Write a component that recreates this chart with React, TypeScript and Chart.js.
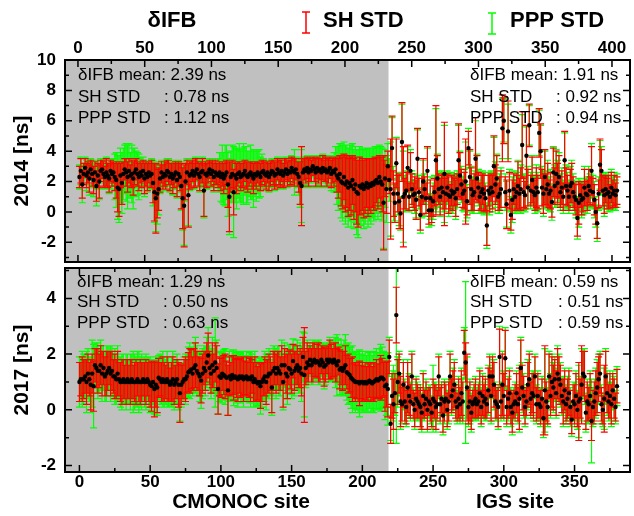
import React, { useEffect, useRef } from "react";
import { Chart, registerables } from "chart.js";

Chart.register(...registerables);

const FONT = 'Arial, "Liberation Sans", Helvetica, sans-serif';

// ---------------- data: 2014 ----------------
const M14 = [
  2.3,2.7,1.8,2.5,2.9,2.4,2.6,2.2,2.8,2.5,
  2.1,2.6,1.7,2.4,2.0,2.7,2.8,2.5,2.3,2.6,
  2.4,2.2,2.7,2.5,2.6,2.3,2.1,1.6,1.5,2.4,
  1.9,2.5,2.8,2.6,2.3,2.7,2.4,2.5,2.2,2.6,
  2.8,2.5,2.3,2.6,2.4,2.7,2.2,2.5,2.3,2.6,
  2.4,2.5,1.9,1.3,0.9,1.2,1.5,2.2,2.6,2.3,
  2.5,2.4,2.7,2.6,2.3,2.5,2.2,2.4,2.6,2.1,
  2.5,2.3,1.7,0.9,0.4,2.0,2.6,1.1,2.4,2.5,
  2.7,2.4,2.6,2.8,2.5,2.3,2.6,2.7,1.4,2.5,
  2.4,2.6,2.8,2.5,2.7,2.3,2.6,2.5,2.4,2.6,
  2.3,2.5,2.2,2.4,2.6,1.8,1.0,2.3,2.5,1.3,
  2.4,2.2,2.5,2.6,2.3,2.4,2.5,2.7,2.4,2.3,
  2.5,2.6,2.4,2.2,2.5,2.4,2.6,2.5,2.3,2.6,
  2.7,2.5,2.4,2.6,2.3,2.5,2.7,2.6,2.4,2.5,
  2.8,2.6,2.5,2.7,2.4,2.6,2.8,2.5,2.7,2.6,
  2.9,2.7,2.6,2.8,2.5,2.3,1.9,1.7,2.6,2.8,
  2.7,2.9,2.6,2.8,2.7,3.0,2.8,2.6,2.9,2.7,
  2.8,2.6,2.9,2.7,2.8,2.6,2.7,2.9,2.5,2.7,
  2.6,2.8,2.4,2.2,2.5,2.0,1.9,2.3,1.8,2.0,
  1.6,1.9,1.7,2.1,1.5,1.8,1.3,1.2,1.7,1.6,
  1.8,1.5,1.7,1.9,1.6,1.8,1.7,1.9,1.8,2.0,
  2.1,1.9,2.3,2.0,1.8,0.6,2.2,1.5,3.0,
  2.1,1.5,4.2,1.2,0.6,3.2,1.2,0.7,-0.1,4.6,
  1.0,1.2,1.4,2.9,1.0,2.7,1.5,1.1,1.2,0.8,
  3.5,1.3,-0.2,1.0,2.0,1.5,0.9,2.7,0.1,0.9,
  0.1,0.7,1.3,3.4,2.2,1.5,1.0,1.6,1.3,2.5,
  1.2,1.6,1.1,1.0,1.4,1.2,1.3,0.9,1.5,3.4,
  2.4,1.8,1.2,1.4,2.0,0.7,4.2,2.3,1.5,1.1,
  1.3,3.5,2.2,1.6,1.0,1.3,1.5,1.2,0.9,-0.9,
  1.4,1.2,1.6,1.3,3.0,1.8,2.2,1.0,1.2,1.5,
  5.5,6.0,1.3,0.5,5.3,1.4,-0.2,0.8,1.5,1.0,
  1.3,1.7,1.2,1.5,4.4,1.3,1.1,3.7,1.6,5.7,
  1.4,2.1,1.3,1.1,1.6,1.3,5.2,4.0,1.6,1.2,
  2.3,1.5,1.8,1.2,1.4,0.65,2.6,1.7,2.5,1.9,
  2.3,1.3,1.6,1.0,3.4,1.7,1.4,1.0,1.7,1.9,
  1.3,1.0,0.8,-0.4,0.6,1.1,0.8,0.9,1.6,1.2,
  1.1,1.7,1.4,2.7,1.3,0.8,0.0,-0.75,1.2,3.1,
  2.7,1.4,1.1,1.5,1.2,1.3,1.0,1.6,1.2,1.4,
  1.1,1.4
];

const SH14 = [
  0.7,0.8,0.9,0.7,0.6,0.8,0.7,0.9,0.6,0.8,
  0.9,0.7,1.0,0.8,1.1,0.7,0.6,0.8,0.7,0.9,
  0.8,0.9,0.7,0.8,0.7,0.9,1.2,1.6,1.8,0.8,
  1.4,0.8,0.7,0.9,1.0,0.8,0.7,0.9,1.1,0.8,
  0.7,0.8,0.9,0.7,0.8,0.7,1.0,0.8,0.9,0.7,
  0.8,0.9,1.3,1.9,2.3,1.6,1.4,0.9,0.7,0.8,
  0.8,0.9,0.7,0.8,0.9,0.7,1.0,0.8,0.7,1.1,
  0.8,0.9,1.5,2.0,2.7,1.2,0.8,2.1,0.9,0.8,
  0.7,0.8,0.9,0.7,0.8,0.9,0.7,0.8,1.7,0.8,
  0.8,0.7,0.6,0.8,0.7,0.9,0.8,0.7,0.8,0.7,
  0.9,0.8,1.0,0.9,0.8,1.5,2.3,1.0,0.9,1.5,
  0.9,1.0,0.8,0.7,0.9,0.8,0.8,0.7,0.9,1.0,
  0.8,0.7,0.9,1.0,0.8,0.9,0.7,0.8,0.9,0.8,
  0.7,0.8,0.9,0.7,0.9,0.8,0.7,0.8,0.9,0.8,
  0.7,0.8,0.9,0.7,0.8,0.9,0.7,0.8,0.7,0.8,
  0.7,0.8,0.9,0.7,0.8,1.0,1.4,2.6,0.9,0.7,
  0.8,0.7,0.9,0.8,0.7,0.6,0.8,0.9,0.7,0.8,
  0.7,0.9,0.8,0.7,0.8,0.9,0.8,0.7,0.9,0.8,
  0.9,0.8,1.1,1.3,1.2,1.6,1.7,1.5,1.8,1.7,
  1.9,1.8,1.9,1.6,2.0,1.8,2.1,2.2,1.9,1.8,
  1.7,1.9,1.8,1.6,1.9,1.7,1.8,1.6,1.7,1.6,
  1.5,1.7,1.4,1.6,1.8,3.1,1.2,1.6,1.0,
  0.9,3.3,2.1,1.5,1.3,1.6,1.2,1.8,1.0,2.6,
  3.3,1.0,1.2,1.5,0.9,1.2,1.0,0.8,1.1,1.3,
  2.0,0.9,1.0,1.2,1.5,0.8,1.0,1.6,0.9,1.2,
  0.8,1.0,0.9,3.6,1.5,1.0,1.2,0.9,1.1,3.4,
  1.0,0.9,1.2,0.8,1.0,1.1,0.9,1.2,1.0,2.4,
  1.5,1.0,0.9,1.2,2.8,0.9,1.1,1.8,1.4,1.0,
  1.2,2.7,1.5,1.0,0.9,1.1,1.0,1.2,0.8,1.3,
  1.0,1.2,0.9,1.1,2.0,1.3,1.5,0.9,1.1,1.2,
  2.2,1.5,1.0,1.6,2.0,1.2,1.0,1.3,1.0,0.9,
  1.1,1.6,1.0,1.4,2.2,1.0,0.9,2.0,1.2,1.4,
  1.0,1.5,0.9,1.0,1.3,1.1,1.6,1.8,1.2,1.3,
  1.8,1.0,1.4,0.9,1.2,1.0,1.6,1.2,1.5,1.3,
  1.4,1.0,1.1,0.9,1.9,1.2,1.0,0.9,1.1,1.3,
  1.0,0.9,1.0,1.2,1.4,0.8,1.0,0.9,1.2,0.8,
  1.0,1.1,0.9,1.6,0.9,1.0,0.8,1.0,0.9,1.7,
  1.4,1.0,1.2,0.9,1.0,1.1,0.8,1.0,0.9,1.0,
  0.8,0.9
];

const PPP14 = [
  0.8,0.9,1.2,0.7,0.7,1.0,0.8,1.1,0.7,0.9,
  1.1,0.8,1.3,0.9,1.2,0.8,0.7,0.9,0.8,1.0,
  0.9,1.0,0.8,1.0,0.9,1.5,1.8,2.1,2.2,1.8,
  2.0,1.7,1.6,1.9,2.1,1.8,1.5,1.9,2.0,1.6,
  1.2,1.4,1.5,1.0,1.2,0.9,1.2,0.9,1.0,0.8,
  0.9,1.0,1.5,2.0,2.2,2.0,1.7,1.0,0.8,0.9,
  0.9,1.0,0.8,0.9,1.0,0.8,1.1,0.9,0.8,1.2,
  0.9,1.0,1.6,2.1,2.6,1.3,0.9,2.0,1.0,0.9,
  0.8,0.9,1.0,0.8,0.9,1.0,0.8,0.9,1.8,0.9,
  0.9,0.8,0.7,0.9,0.8,1.0,0.9,0.8,1.1,1.3,
  1.6,1.9,1.7,2.0,1.8,2.1,2.5,1.7,1.9,3.0,
  1.8,2.0,1.6,1.9,1.7,1.8,2.0,1.6,1.9,1.7,
  1.5,1.8,1.6,1.9,1.5,1.7,1.4,1.6,1.3,1.2,
  0.8,0.9,1.0,0.8,1.0,0.9,0.8,0.9,1.0,0.9,
  0.8,0.9,1.0,0.8,0.9,1.0,0.8,0.9,0.8,0.9,
  0.8,0.9,1.5,0.8,0.9,1.2,1.6,2.4,1.0,0.8,
  0.9,0.8,1.0,0.9,0.8,0.7,0.9,1.0,0.8,0.9,
  0.8,1.0,0.9,0.8,0.9,1.0,0.9,0.8,1.1,0.9,
  1.3,1.5,1.9,2.1,2.0,2.4,2.5,2.3,2.6,2.4,
  2.6,2.5,2.7,2.4,2.6,2.5,2.8,2.9,2.6,2.5,
  2.4,2.6,2.5,2.3,2.6,2.4,2.5,2.3,2.4,2.3,
  2.2,2.4,2.1,2.3,2.4,3.0,1.9,2.2,1.5,
  1.4,3.1,2.0,1.8,1.2,1.7,1.4,1.6,1.1,2.5,
  3.0,1.2,1.3,1.4,1.0,1.4,1.2,1.0,1.3,1.2,
  1.9,1.1,1.2,1.4,1.4,1.0,1.2,1.5,1.1,1.4,
  1.0,1.2,1.1,3.4,1.6,1.2,1.3,1.1,1.3,3.2,
  1.2,1.1,1.4,1.0,1.2,1.3,1.1,1.4,1.2,2.3,
  1.6,1.2,1.1,1.4,2.6,1.1,1.3,1.7,1.5,1.2,
  1.4,2.5,1.6,1.2,1.1,1.3,1.2,1.4,1.0,1.5,
  1.2,1.4,1.1,1.3,1.9,1.5,1.6,1.1,1.3,1.4,
  2.0,1.4,1.2,1.5,1.8,1.4,1.2,1.5,1.2,1.1,
  1.3,1.7,1.2,1.6,2.0,1.2,1.1,1.9,1.4,1.3,
  1.2,1.6,1.1,1.2,1.5,1.3,1.5,1.7,1.4,1.5,
  1.7,1.2,1.6,1.1,1.4,1.2,1.7,1.4,1.6,1.5,
  1.6,1.2,1.3,1.1,1.8,1.4,1.2,1.1,1.3,1.5,
  1.2,1.1,1.2,1.4,1.6,1.0,1.2,1.1,1.4,1.0,
  1.2,1.3,1.1,1.8,1.1,1.2,1.0,1.2,1.1,1.6,
  1.6,1.2,1.4,1.1,1.2,1.3,1.0,1.2,1.1,1.2,
  1.0,1.1
];

// ---------------- data: 2017 ----------------
const M17 = [
  1.0,1.1,1.1,1.1,1.2,1.0,1.3,1.1,0.9,1.3,
  0.85,1.6,1.5,1.4,1.4,1.6,1.3,1.5,1.2,1.3,
  1.4,1.5,1.3,1.4,1.2,1.2,1.1,1.3,1.1,1.0,
  1.0,1.1,1.0,1.0,1.1,1.0,1.0,1.1,1.0,1.0,
  1.0,1.1,1.0,1.0,1.0,1.1,1.0,1.0,1.1,1.0,
  0.9,0.85,1.0,0.75,0.9,0.8,1.15,1.1,1.0,1.1,
  1.0,1.0,1.1,1.0,0.9,1.0,1.1,0.9,1.0,1.1,
  0.9,0.6,0.9,1.0,1.1,1.1,1.2,1.35,1.4,1.45,
  1.3,1.5,1.6,1.4,1.3,1.2,1.05,1.3,1.5,1.4,
  1.7,1.95,1.5,1.3,1.6,1.4,1.7,1.5,0.75,1.2,
  1.15,1.3,1.25,1.2,1.15,0.7,1.2,1.1,1.25,1.15,
  1.2,1.15,1.1,1.2,1.15,1.2,1.1,1.15,1.2,1.1,
  1.15,1.1,1.2,1.0,1.1,1.0,0.95,1.0,0.85,1.0,
  1.1,1.2,1.0,1.2,1.3,1.3,0.8,1.4,1.5,1.3,
  1.5,1.4,1.3,1.6,1.0,1.6,1.3,1.2,1.5,1.45,
  1.3,1.75,1.4,1.5,1.6,1.4,1.5,1.3,1.9,1.25,
  1.5,1.7,1.6,1.8,1.6,1.7,1.8,1.7,1.75,1.7,
  1.6,1.8,1.7,1.55,1.6,1.8,1.7,1.8,1.75,1.7,
  1.8,1.7,1.6,1.75,1.45,1.5,1.4,1.5,1.6,1.35,
  1.3,1.25,1.15,1.1,1.05,1.0,1.0,1.0,0.95,1.0,
  1.0,0.95,1.0,0.95,1.0,1.05,1.0,0.95,1.0,1.05,
  1.1,1.05,1.1,1.15,1.15,1.1,0.85,0.9,0.75,
  1.9,-0.5,0.5,0.2,0.6,3.4,1.0,1.3,0.3,0.2,
  0.9,0.3,0.1,0.8,0.5,0.3,1.2,0.2,0.0,0.4,
  0.3,0.2,0.1,-0.1,0.5,0.2,0.4,0.0,0.3,0.2,
  -0.1,0.4,0.3,0.1,0.2,1.2,0.2,0.4,-0.2,0.3,
  0.4,0.0,0.3,1.2,0.5,0.7,0.9,0.3,0.1,0.4,
  0.2,0.6,0.3,2.05,1.7,0.8,0.1,0.3,-0.1,0.2,
  0.3,0.4,0.2,0.3,0.6,0.1,0.5,0.3,0.4,0.2,
  0.7,1.2,0.5,1.2,0.9,0.3,0.2,0.1,1.9,0.3,
  0.9,0.5,1.85,0.1,0.4,0.6,0.1,-0.1,0.2,0.3,
  0.6,0.2,0.4,1.5,0.8,0.5,0.1,0.3,0.9,1.1,
  0.4,0.6,0.5,1.2,0.2,0.5,0.2,0.1,0.4,-0.3,
  0.7,0.3,0.1,1.2,0.5,1.0,0.8,1.1,0.6,1.3,
  1.1,0.9,0.5,0.3,0.7,0.2,0.4,0.6,0.1,-0.35,
  0.3,0.2,0.5,0.0,0.3,0.4,0.9,1.3,1.2,-0.1,
  0.3,0.2,0.5,-0.4,0.1,0.3,0.6,0.8,1.1,1.3,
  0.2,0.0,0.4,1.2,0.6,0.3,0.5,0.2,0.7,0.4,
  0.1,0.85
];

const SH17 = [
  0.7,0.6,0.8,0.7,0.6,0.8,0.7,0.6,0.9,0.7,
  0.9,0.6,0.7,0.8,0.6,0.7,0.8,0.6,0.7,0.8,
  0.7,0.6,0.8,0.7,0.6,0.8,0.7,0.8,0.6,0.7,
  0.8,0.7,0.6,0.8,0.7,0.6,0.8,0.7,0.6,0.7,
  0.8,0.6,0.7,0.8,0.7,0.6,0.7,0.8,0.6,0.7,
  0.8,0.9,0.7,1.0,0.8,0.9,0.7,0.6,0.7,0.8,
  0.7,0.6,0.8,0.7,0.6,0.7,0.8,0.7,0.6,0.7,
  0.8,1.05,0.7,0.6,0.7,0.8,0.6,0.7,0.8,0.7,
  0.6,0.7,0.8,0.7,0.6,0.7,0.8,0.7,0.6,0.7,
  0.7,0.8,0.6,0.7,0.8,0.6,0.7,0.8,0.9,0.7,
  0.7,0.6,0.7,0.8,0.6,0.9,0.7,0.6,0.7,0.8,
  0.6,0.7,0.8,0.6,0.7,0.7,0.8,0.6,0.7,0.6,
  0.7,0.8,0.6,0.7,0.8,0.7,0.6,0.7,0.8,0.7,
  0.6,0.7,0.8,0.6,0.7,0.6,0.9,0.7,0.6,0.7,
  0.6,0.7,0.6,0.7,0.9,0.6,0.7,0.8,0.6,0.7,
  0.7,0.6,0.7,0.6,0.7,0.6,0.7,0.8,0.7,1.7,
  0.6,0.7,0.6,0.5,0.6,0.7,0.6,0.5,0.6,0.7,
  0.6,0.5,0.6,0.7,0.6,0.5,0.6,0.7,0.6,0.5,
  0.6,0.7,0.6,0.5,0.7,0.6,0.7,0.6,0.7,0.6,
  0.7,0.6,0.7,0.8,0.6,0.7,0.6,0.7,0.8,0.6,
  0.7,0.6,0.7,0.6,0.7,0.6,0.7,0.6,0.7,0.6,
  0.7,0.6,0.7,0.8,0.7,0.6,0.9,0.8,1.0,
  0.6,0.7,0.8,0.9,0.7,1.0,0.8,0.7,0.9,0.6,
  0.8,0.7,0.6,0.9,0.7,0.6,0.8,0.5,0.6,0.7,
  0.6,0.5,0.7,0.6,0.8,0.5,0.6,0.7,0.5,0.6,
  0.5,0.7,0.6,0.8,0.5,0.7,0.6,0.5,0.6,0.7,
  0.5,0.6,0.7,0.8,0.6,0.7,0.8,0.6,0.5,0.7,
  0.6,0.8,0.7,0.8,0.7,1.2,0.6,0.7,0.6,0.5,
  0.6,0.7,0.5,0.6,0.8,0.6,0.7,0.6,0.7,0.5,
  0.8,0.7,0.9,0.7,0.8,0.6,0.5,0.7,1.0,0.6,
  1.1,0.8,1.0,0.6,0.7,0.8,0.6,0.7,0.5,0.6,
  0.7,0.6,1.1,1.0,0.8,0.7,0.6,0.5,0.8,0.9,
  0.6,0.7,0.8,0.7,0.6,0.8,0.5,0.6,0.7,0.6,
  1.6,0.7,0.6,0.8,0.7,0.9,0.8,0.7,0.8,0.9,
  0.8,0.7,0.6,0.8,0.7,0.6,0.7,0.8,0.6,0.5,
  0.6,0.7,0.8,0.6,1.4,0.7,1.4,0.8,0.9,0.6,
  0.7,0.6,0.8,0.7,0.6,0.7,0.8,0.9,0.8,0.7,
  0.6,0.5,1.2,0.9,0.7,0.6,0.8,0.7,0.6,0.7,
  0.5,0.6
];

const PPP17 = [
  0.9,0.8,1.0,0.9,0.8,1.1,0.9,0.8,1.0,1.2,
  1.5,0.8,0.9,1.0,0.8,0.9,1.0,0.8,0.9,1.0,
  0.9,0.8,1.0,0.9,0.8,1.0,0.9,1.0,0.8,0.9,
  1.0,0.9,0.8,1.0,0.9,0.8,1.0,0.9,1.1,1.0,
  0.9,1.0,1.1,0.9,1.0,0.8,0.9,1.0,0.8,0.9,
  1.0,0.9,0.8,0.9,1.0,1.0,0.8,0.9,0.8,1.0,
  0.9,0.8,1.0,0.9,0.8,0.9,1.0,0.9,0.8,0.9,
  0.9,1.0,0.8,0.7,0.8,0.9,0.8,0.9,1.0,0.8,
  0.8,0.9,1.0,0.9,0.8,0.9,1.0,0.9,0.8,0.9,
  0.9,1.0,0.8,0.9,1.0,0.8,1.6,1.0,0.9,0.9,
  0.9,0.8,0.9,1.0,0.8,0.9,0.9,0.8,0.9,1.0,
  0.8,0.9,1.0,0.8,0.9,0.9,1.0,0.8,0.9,0.8,
  0.9,1.0,0.8,0.9,1.0,0.9,0.8,0.9,1.0,0.9,
  0.8,0.9,1.0,0.8,0.9,0.8,1.0,0.9,0.8,0.9,
  0.8,0.9,0.8,0.9,1.0,0.8,0.9,1.0,0.8,0.9,
  0.9,0.8,0.9,0.8,0.9,0.8,0.9,1.0,0.9,1.5,
  0.7,0.8,0.7,0.6,0.7,0.8,0.7,0.6,0.7,0.8,
  0.7,0.6,0.7,0.8,0.7,0.6,0.7,0.8,0.7,0.6,
  0.8,0.9,1.1,0.8,0.9,1.0,0.9,1.0,1.1,1.0,
  1.1,1.0,1.1,1.2,1.0,1.1,1.0,1.1,1.2,1.0,
  1.1,1.0,1.1,1.0,1.1,1.0,1.1,1.0,1.1,1.0,
  1.1,1.0,1.1,1.2,1.1,1.0,1.2,1.1,1.3,
  0.7,0.6,0.9,1.4,0.8,4.6,0.9,0.8,1.0,0.7,
  0.9,0.8,0.7,1.0,0.8,0.7,0.9,0.6,0.7,0.8,
  0.7,0.6,0.8,0.7,0.9,0.6,0.7,0.8,0.6,0.7,
  0.6,1.2,0.7,0.9,0.6,0.8,0.7,0.6,0.7,0.8,
  0.6,0.7,0.8,0.9,0.7,0.8,0.9,0.7,0.6,0.8,
  0.7,0.9,0.8,0.9,2.9,1.1,0.7,0.8,0.7,0.6,
  0.7,0.8,0.6,0.7,0.9,0.7,0.8,0.7,0.8,0.6,
  0.9,0.8,1.0,0.8,0.9,0.7,0.6,0.8,1.1,0.7,
  1.2,0.9,1.1,0.7,0.8,0.9,0.7,0.8,0.6,0.7,
  0.8,0.7,1.2,1.1,0.9,0.8,0.7,0.6,0.9,1.0,
  0.7,0.8,0.9,0.8,0.7,0.9,0.6,0.7,0.8,0.7,
  1.5,0.8,0.7,0.9,0.8,1.0,0.9,0.8,0.9,1.0,
  0.9,0.8,0.7,0.9,0.8,0.7,0.8,0.9,0.7,0.6,
  0.7,0.8,0.9,0.7,1.3,0.8,1.3,0.9,1.0,0.7,
  0.8,0.7,0.9,1.5,0.7,0.8,0.9,1.0,0.9,0.8,
  0.7,0.6,1.1,1.0,0.8,0.7,0.9,0.8,0.7,0.8,
  0.6,0.7
];

// site index (x category) for every station
const SITE = M14.map((_, i) => i);
const CMONOC_END = 218.5; // CMONOC sites 0-218, IGS sites 219-380

// axes
const X_RANGE = [-10.2, 389.2];
const XTOP_RANGE = [-9.7, 413.5];
const Y14_RANGE = [-3.3, 10];
const Y17_RANGE = [-2.23, 5.09];
const TOP_TICKS = [0, 50, 100, 150, 200, 250, 300, 350, 400];
const TOP_MINOR = [25, 75, 125, 175, 225, 275, 325, 375];
const BOTTOM_TICKS = [0, 50, 100, 150, 200, 250, 300, 350];
const BOTTOM_MINOR = [25, 75, 125, 175, 225, 275, 325, 375];
const Y14_TICKS = [-2, 0, 2, 4, 6, 8, 10];
const Y14_MINOR = [-3, -1, 1, 3, 5, 7, 9];
const Y17_TICKS = [-2, 0, 2, 4];
const Y17_MINOR = [-1, 1, 3, 5];

// text
const STATS14_CMONOC = ["2.39", "0.78", "1.12"];
const STATS14_IGS = ["1.91", "0.92", "0.94"];
const STATS17_CMONOC = ["1.29", "0.50", "0.63"];
const STATS17_IGS = ["0.59", "0.51", "0.59"];
const LEGEND_LABELS = ["\u03b4IFB", "SH STD", "PPP STD"];
const X_TITLES = ["CMONOC site", "IGS site"];

const RED = "#ff0000";
const GREEN = "#00ff00";
const GRAY = "#c0c0c0";

type PanelOpts = {
  mean: number[];
  sh: number[];
  ppp: number[];
  tickScale: string;
  xMajor: number[];
  xMinor: number[];
  yMajor: number[];
  yMinor: number[];
  stats: [string[], string[]];
  rows: number[];
  leftX: number;
  leftColon: number;
  rightX: number;
  rightColon: number;
  extra?: (chart: any) => void;
};

function drawIBar(ctx: CanvasRenderingContext2D, x: number, y1: number, y2: number, color: string) {
  ctx.strokeStyle = color;
  ctx.lineWidth = 1.5;
  ctx.beginPath();
  ctx.moveTo(x, y1); ctx.lineTo(x, y2);
  ctx.moveTo(x - 4, y1); ctx.lineTo(x + 4, y1);
  ctx.moveTo(x - 4, y2); ctx.lineTo(x + 4, y2);
  ctx.stroke();
}

function panelPlugin(o: PanelOpts) {
  return {
    id: "panel",
    beforeDatasetsDraw(chart: any) {
      const { ctx, chartArea: a, scales } = chart;
      const x = scales.x, y = scales.y;
      ctx.save();
      ctx.fillStyle = GRAY;
      const gx = x.getPixelForValue(CMONOC_END);
      ctx.fillRect(a.left, a.top, gx - a.left, a.bottom - a.top);
      ctx.beginPath();
      ctx.rect(a.left, a.top, a.right - a.left, a.bottom - a.top);
      ctx.clip();
      const bars = (err: number[], color: string) => {
        ctx.strokeStyle = color;
        ctx.lineWidth = 1.2;
        ctx.beginPath();
        for (let i = 0; i < o.mean.length; i++) {
          const px = x.getPixelForValue(SITE[i]);
          const y1 = y.getPixelForValue(o.mean[i] + err[i]);
          const y2 = y.getPixelForValue(o.mean[i] - err[i]);
          ctx.moveTo(px, y1); ctx.lineTo(px, y2);
          ctx.moveTo(px - 3.5, y1); ctx.lineTo(px + 3.5, y1);
          ctx.moveTo(px - 3.5, y2); ctx.lineTo(px + 3.5, y2);
        }
        ctx.stroke();
      };
      bars(o.ppp, GREEN);
      bars(o.sh, RED);
      ctx.restore();
    },
    afterDraw(chart: any) {
      const { ctx, chartArea: a, scales } = chart;
      const xs = scales[o.tickScale], ys = scales.y;
      ctx.save();
      ctx.strokeStyle = "#000";
      ctx.lineWidth = 1.5;
      ctx.beginPath();
      const tx = (vals: number[], len: number) => vals.forEach((v) => {
        const p = xs.getPixelForValue(v);
        if (p < a.left + 1 || p > a.right - 1) return;
        ctx.moveTo(p, a.top); ctx.lineTo(p, a.top + len);
        ctx.moveTo(p, a.bottom); ctx.lineTo(p, a.bottom - len);
      });
      const ty = (vals: number[], len: number) => vals.forEach((v) => {
        const p = ys.getPixelForValue(v);
        if (p < a.top + 1 || p > a.bottom - 1) return;
        ctx.moveTo(a.left, p); ctx.lineTo(a.left + len, p);
        ctx.moveTo(a.right, p); ctx.lineTo(a.right - len, p);
      });
      tx(o.xMajor, 7); tx(o.xMinor, 4);
      ty(o.yMajor, 7); ty(o.yMinor, 4);
      ctx.stroke();
      ctx.lineWidth = 2;
      ctx.strokeRect(a.left, a.top, a.right - a.left, a.bottom - a.top);

      ctx.fillStyle = "#000";
      ctx.font = `17px ${FONT}`;
      ctx.textBaseline = "middle";
      ctx.textAlign = "left";
      const [l, r] = o.stats;
      ctx.fillText(`\u03b4IFB mean: ${l[0]} ns`, o.leftX, o.rows[0]);
      ctx.fillText("SH STD", o.leftX, o.rows[1]);
      ctx.fillText(`: ${l[1]} ns`, o.leftColon, o.rows[1]);
      ctx.fillText("PPP STD", o.leftX, o.rows[2]);
      ctx.fillText(`: ${l[2]} ns`, o.leftColon, o.rows[2]);
      ctx.fillText(`\u03b4IFB mean: ${r[0]} ns`, o.rightX, o.rows[0]);
      ctx.fillText("SH STD", o.rightX, o.rows[1]);
      ctx.fillText(`: ${r[1]} ns`, o.rightColon, o.rows[1]);
      ctx.fillText("PPP STD", o.rightX, o.rows[2]);
      ctx.fillText(`: ${r[2]} ns`, o.rightColon, o.rows[2]);
      if (o.extra) o.extra(chart);
      ctx.restore();
    },
  };
}

const tickFont = { family: FONT, size: 17, weight: "bold" as const };
const titleFont = { family: FONT, size: 21, weight: "bold" as const };

function setTicks(values: number[]) {
  return (s: any) => { s.ticks = values.map((v) => ({ value: v })); };
}

function fixBox(dim: "width" | "height", size: number) {
  return (s: any) => {
    s[dim] = size;
    s.paddingTop = 0; s.paddingBottom = 0; s.paddingLeft = 0; s.paddingRight = 0;
  };
}

function baseConfig(mean: number[], yRange: number[], yTicks: number[], yTitle: string, plugin: any, scalesExtra: any, padding: any) {
  return {
    type: "scatter" as const,
    data: {
      datasets: [{
        data: SITE.map((s, i) => ({ x: s, y: mean[i] })),
        pointRadius: 2.2,
        pointBackgroundColor: "#000",
        pointBorderWidth: 0,
        xAxisID: "x",
        yAxisID: "y",
      }],
    },
    options: {
      animation: false as const,
      responsive: false,
      devicePixelRatio: 1,
      events: [] as any[],
      layout: { padding },
      plugins: { legend: { display: false }, tooltip: { enabled: false } },
      scales: {
        ...scalesExtra,
        y: {
          type: "linear", position: "left", min: yRange[0], max: yRange[1],
          afterBuildTicks: setTicks(yTicks),
          ticks: { font: tickFont, color: "#000", padding: 9 },
          grid: { display: false, drawTicks: false },
          border: { display: false },
          title: { display: true, text: yTitle, font: titleFont, color: "#000", padding: { top: 10, bottom: 0 } },
          afterFit: fixBox("width", 65),
        },
      },
    },
    plugins: [plugin],
  };
}

function config14() {
  const plugin = panelPlugin({
    mean: M14, sh: SH14, ppp: PPP14, tickScale: "x2",
    xMajor: TOP_TICKS, xMinor: TOP_MINOR, yMajor: Y14_TICKS, yMinor: Y14_MINOR,
    stats: [STATS14_CMONOC, STATS14_IGS], rows: [75, 97, 118],
    leftX: 78, leftColon: 164, rightX: 470, rightColon: 556,
    extra: (chart: any) => {
      const ctx = chart.ctx as CanvasRenderingContext2D;
      ctx.font = `bold 22px ${FONT}`;
      ctx.fillStyle = "#000";
      ctx.textBaseline = "middle";
      ctx.textAlign = "center";
      ctx.fillText(LEGEND_LABELS[0], 172, 21);
      ctx.textAlign = "left";
      drawIBar(ctx, 306, 12, 33, RED);
      ctx.fillText(LEGEND_LABELS[1], 323, 21);
      drawIBar(ctx, 492, 13, 34, GREEN);
      ctx.fillText(LEGEND_LABELS[2], 510, 21);
    },
  });
  return baseConfig(M14, Y14_RANGE, Y14_TICKS, "2014 [ns]", plugin, {
    x: {
      type: "linear", position: "bottom", min: X_RANGE[0], max: X_RANGE[1],
      ticks: { display: false }, grid: { display: false, drawTicks: false }, border: { display: false },
      afterFit: fixBox("height", 1),
    },
    x2: {
      type: "linear", position: "top", min: XTOP_RANGE[0], max: XTOP_RANGE[1],
      afterBuildTicks: setTicks(TOP_TICKS),
      ticks: { font: tickFont, color: "#000", padding: 1, maxRotation: 0, autoSkip: false },
      grid: { display: false, drawTicks: false }, border: { display: false },
      afterFit: fixBox("height", 60),
    },
  }, { left: 0, right: 3, top: 0, bottom: 0 });
}

function config17() {
  const plugin = panelPlugin({
    mean: M17, sh: SH17, ppp: PPP17, tickScale: "x",
    xMajor: BOTTOM_TICKS, xMinor: BOTTOM_MINOR, yMajor: Y17_TICKS, yMinor: Y17_MINOR,
    stats: [STATS17_CMONOC, STATS17_IGS], rows: [18, 38, 59],
    leftX: 77, leftColon: 163, rightX: 470, rightColon: 558,
    extra: (chart: any) => {
      const ctx = chart.ctx as CanvasRenderingContext2D;
      ctx.font = `bold 21px ${FONT}`;
      ctx.fillStyle = "#000";
      ctx.textBaseline = "middle";
      ctx.textAlign = "center";
      ctx.fillText(X_TITLES[0], 241, 238);
      ctx.fillText(X_TITLES[1], 515, 238);
    },
  });
  return baseConfig(M17, Y17_RANGE, Y17_TICKS, "2017 [ns]", plugin, {
    x: {
      type: "linear", position: "bottom", min: X_RANGE[0], max: X_RANGE[1],
      afterBuildTicks: setTicks(BOTTOM_TICKS),
      ticks: { font: tickFont, color: "#000", padding: 0, maxRotation: 0, autoSkip: false },
      grid: { display: false, drawTicks: false }, border: { display: false },
      afterFit: fixBox("height", 44),
    },
  }, { left: 0, right: 3, top: 1, bottom: 0 });
}

export default function App() {
  const ref1 = useRef<HTMLCanvasElement>(null);
  const ref2 = useRef<HTMLCanvasElement>(null);
  useEffect(() => {
    const c1 = new Chart(ref1.current as HTMLCanvasElement, config14() as any);
    const c2 = new Chart(ref2.current as HTMLCanvasElement, config17() as any);
    return () => { c1.destroy(); c2.destroy(); };
  }, []);
  return (
    <div style={{ position: "absolute", left: 0, top: 0, width: 634, height: 516, background: "#fff", overflow: "hidden" }}>
      <canvas ref={ref1} width={634} height={266} style={{ position: "absolute", left: 0, top: 0 }} />
      <canvas ref={ref2} width={634} height={252} style={{ position: "absolute", left: 0, top: 264 }} />
    </div>
  );
}
